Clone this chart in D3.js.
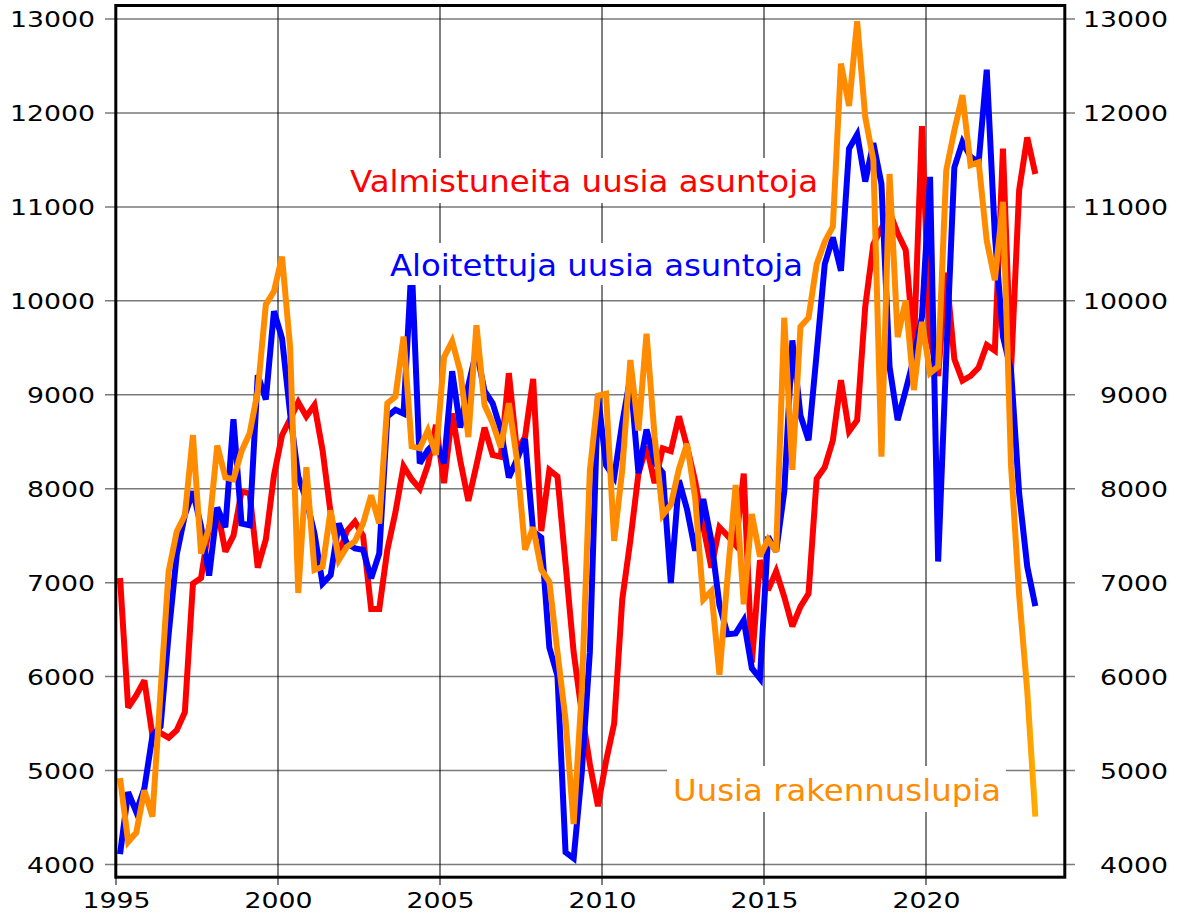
<!DOCTYPE html>
<html><head><meta charset="utf-8">
<script src="https://cdn.jsdelivr.net/npm/d3@7"></script>
<style>html,body{margin:0;padding:0;background:#fff;} svg{display:block;}</style>
</head><body>
<svg id="chart" width="1178" height="915"></svg>
<script>
const startYear = 1995;
// quarterly series, 1995Q1 .. 2023Q2
const completed = [
7050,5670,5800,5960, 5370,5400,5350,5430, 5620,6990,7050,7600, 7780,7330,7500,7970,
7950,7160,7460,8140, 8570,8740,8920,8770, 8890,8410,7740,7300, 7550,7650,7500,6720,
6720,7350,7750,8240, 8100,8000,8250,8680, 8060,8800,8300,7870, 8250,8650,8360,8340,
9230,8400,8550,9170, 7550,8200,8130,7200, 6260,5620,5070,4620, 5100,5500,6820,7450,
8160,8450,8060,8430, 8400,8770,8450,8080, 7600,7160,7590,7500, 7400,8160,6150,7240,
6920,7120,6850,6535, 6745,6885,8105,8230, 8515,9156,8610,8729, 9939,10603,10770,10950,
10720,10540,9490,11860, 9600,9200,10300,9380, 9150,9200,9290,9530, 9470,11620,9260,11180,
11740,11350];
const started = [
4110,4770,4560,4810, 5370,5470,6450,7300, 7720,7970,7600,7075, 7800,7590,8740,7630,
7610,9210,8950,9890, 9600,8800,8130,7880, 7525,6990,7080,7630, 7420,7365,7350,7045,
7310,8770,8840,8800, 10400,8270,8410,8500, 8270,9250,8650,9100, 9470,9040,8910,8630,
8120,8310,8530,7545, 7480,6310,6010,4130, 4065,4980,6260,9000, 8250,8120,8700,9190,
8165,8630,8280,8170, 6995,8090,7780,7340, 7890,7450,6760,6450, 6460,6600,6090,5980,
7490,7330,7970,9580, 8780,8515,9440,10390, 10675,10320,11620,11770, 11270,11680,11245,9300,
8730,9050,9390,9830, 11320,7225,9400,11420, 11690,11535,11475,12460, 10700,9620,9260,7950,
7170,6750];
const permits = [
4920,4240,4340,4790, 4510,5840,7120,7545, 7716,8570,7310,7590, 8460,8120,8100,8400,
8590,9040,9960,10100, 10470,9500,6890,8230, 7135,7170,7770,7240, 7380,7440,7630,7930,
7630,8910,8980,9620, 8450,8430,8620,8360, 9400,9570,9250,8550, 9740,8890,8700,8440,
8910,8310,7350,7590, 7140,7010,6260,5540, 4430,5840,8190,8990, 9010,7445,8200,9370,
8620,9650,8550,7720, 7830,8210,8480,7900, 6820,6910,6020,7060, 8040,6770,7730,7280,
7460,7330,9820,8200, 9725,9820,10390,10630, 10790,12525,12075,12975, 11955,11500,8340,11350,
9615,10005,9050,9775, 9230,9300,11390,11815, 12190,11445,11475,10640, 10220,11055,8245,6870,
5850,4510];
const yTicks = [4000,5000,6000,7000,8000,9000,10000,11000,12000,13000];
const xTicks = [1995,2000,2005,2010,2015,2020];
const seriesNames = ["Valmistuneita uusia asuntoja","Aloitettuja uusia asuntoja","Uusia rakennuslupia"];
const seriesColors = ["#ff0000","#0000ff","#ff8c00"];

const svg = d3.select('#chart');
const x = d3.scaleLinear().domain([1995, 2025]).range([116, 1088]);
const y = d3.scaleLinear().domain([4000, 13000]).range([864.5, 19]);
const tq = i => startYear + (i + 0.5) / 4;
const FONT = "'DejaVu Sans', sans-serif";

// horizontal grid (extends as ticks on both sides)
svg.append('g').selectAll('line').data(yTicks).join('line')
  .attr('x1', 105).attr('x2', 1075)
  .attr('y1', d => y(d)).attr('y2', d => y(d))
  .attr('stroke', '#7a7a7a').attr('stroke-width', 1.5);
// vertical grid
svg.append('g').selectAll('line').data(xTicks).join('line')
  .attr('x1', d => x(d)).attr('x2', d => x(d))
  .attr('y1', 5).attr('y2', 885)
  .attr('stroke', '#000').attr('stroke-width', 1);

// axes labels via d3 axes
const digitW = 17;
const leftAx = svg.append('g').attr('transform', 'translate(115,0)')
  .call(d3.axisLeft(y).tickValues(yTicks).tickSize(0).tickPadding(20).tickFormat(d3.format('d')));
const rightAx = svg.append('g').attr('transform', 'translate(1168,0)')
  .call(d3.axisLeft(y).tickValues(yTicks).tickSize(0).tickPadding(0).tickFormat(d3.format('d')));
const botAx = svg.append('g').attr('transform', 'translate(0,908)')
  .call(d3.axisBottom(x).tickValues(xTicks).tickSize(0).tickPadding(0).tickFormat(d3.format('d')));
[leftAx, rightAx, botAx].forEach(ax => {
  ax.select('.domain').remove();
  ax.selectAll('text')
    .attr('font-family', FONT).attr('font-size', 21).attr('fill', '#000')
    .attr('textLength', function () { return this.textContent.length * digitW; })
    .attr('lengthAdjust', 'spacingAndGlyphs');
});
botAx.selectAll('text').attr('dy', 0).attr('y', 0);
leftAx.selectAll('text').attr('dy', '0.36em');
rightAx.selectAll('text').attr('dy', '0.36em');

// gradient for final orange segment
const defs = svg.append('defs');
const grad = defs.append('linearGradient').attr('id', 'orgGrad')
  .attr('gradientUnits', 'userSpaceOnUse')
  .attr('x1', x(tq(permits.length - 3))).attr('x2', x(tq(permits.length - 1)))
  .attr('y1', 0).attr('y2', 0);
grad.append('stop').attr('offset', 0).attr('stop-color', '#ff8c00');
grad.append('stop').attr('offset', 1).attr('stop-color', '#ffad00');

const line = d3.line().x((d, i) => x(tq(i))).y(d => y(d));
const series = [completed, started, permits];
const strokes = [seriesColors[0], seriesColors[1], 'url(#orgGrad)'];
svg.append('g').selectAll('path').data(series).join('path')
  .attr('d', d => line(d))
  .attr('fill', 'none')
  .attr('stroke', (d, i) => strokes[i])
  .attr('stroke-width', 6)
  .attr('stroke-linejoin', 'miter')
  .attr('stroke-miterlimit', 3);

// labels with white boxes
const labelPos = [
  {x: 350, y: 192, w: 468, bx: 343, by: 158, bw: 482, bh: 45},
  {x: 390, y: 276, w: 413, bx: 383, by: 243, bw: 427, bh: 42},
  {x: 673, y: 801, w: 328, bx: 667, by: 766, bw: 339, bh: 46}
];
const lg = svg.append('g');
lg.selectAll('rect').data(labelPos).join('rect')
  .attr('x', d => d.bx).attr('y', d => d.by).attr('width', d => d.bw).attr('height', d => d.bh)
  .attr('fill', '#fff');
lg.selectAll('text').data(labelPos).join('text')
  .attr('x', d => d.x).attr('y', d => d.y)
  .attr('font-family', FONT).attr('font-size', 30)
  .attr('fill', (d, i) => seriesColors[i])
  .attr('textLength', d => d.w).attr('lengthAdjust', 'spacingAndGlyphs')
  .text((d, i) => seriesNames[i]);

// frame
svg.append('rect').attr('x', 115.8).attr('y', 5.5).attr('width', 949).attr('height', 871.7)
  .attr('fill', 'none').attr('stroke', '#000').attr('stroke-width', 3);
</script>
</body></html>
